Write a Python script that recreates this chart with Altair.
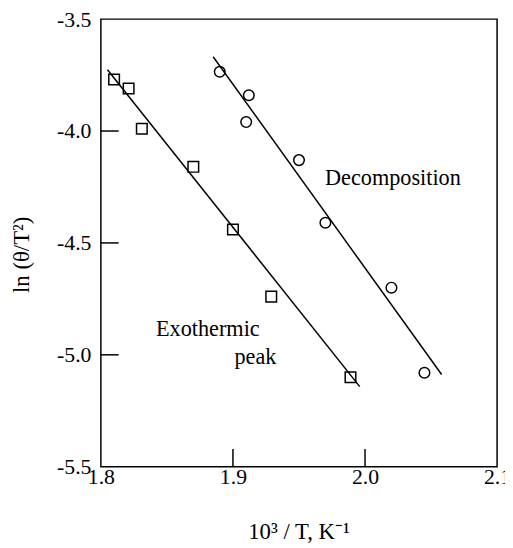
import altair as alt
import pandas as pd

# Exothermic peak (squares)
sq_x = [1.810, 1.821, 1.831, 1.870, 1.900, 1.929, 1.989]
sq_y = [-3.77, -3.81, -3.99, -4.16, -4.44, -4.74, -5.10]
# Decomposition (circles)
ci_x = [1.890, 1.912, 1.910, 1.950, 1.970, 2.020, 2.045]
ci_y = [-3.735, -3.84, -3.96, -4.13, -4.41, -4.70, -5.08]
# fitted lines (end points)
exo_fit_x = [1.805, 1.996]
exo_fit_y = [-3.726, -5.142]
dec_fit_x = [1.885, 2.058]
dec_fit_y = [-3.668, -5.088]
# axes
x_ticks = [1.8, 1.9, 2.0, 2.1]
y_ticks = [-5.5, -5.0, -4.5, -4.0, -3.5]
x_inner = [1.9, 2.0]
y_inner = [-5.0, -4.5, -4.0]
# labels
lab_text = ["Decomposition", "Exothermic", "peak"]
lab_x = [1.9697, 1.881, 1.917]
lab_y = [-4.212, -4.885, -5.009]
lab_align = ["left", "center", "center"]

FONT = "Liberation Serif"
xs = alt.Scale(domain=[1.8, 2.1], nice=False, zero=False)
ys = alt.Scale(domain=[-5.5, -3.5], nice=False, zero=False)

sq = pd.DataFrame({"x": sq_x, "y": sq_y})
ci = pd.DataFrame({"x": ci_x, "y": ci_y})
exo = pd.DataFrame({"x": exo_fit_x, "y": exo_fit_y})
dec = pd.DataFrame({"x": dec_fit_x, "y": dec_fit_y})

xaxis = alt.Axis(values=x_ticks, format=".1f", title="10³ / T,  K⁻¹",
                 titleX=200, titleY=66, titleAnchor="middle", titleAlign="center",
                 titleBaseline="middle", labelPadding=0, labelFontSize=22, labelFlush=False)
yaxis = alt.Axis(values=y_ticks, title="ln (θ/T²)",
                 labelExpr="replace(format(datum.value, '.1f'), '\u2212', '-')",
                 titleX=-80, titleY=238, titleAngle=270, titleAlign="center",
                 titleBaseline="middle", labelPadding=10, labelFontSize=22, labelFlush=False)

base_x = alt.X("x:Q", scale=xs, axis=xaxis)
base_y = alt.Y("y:Q", scale=ys, axis=yaxis)

exo_line = alt.Chart(exo).mark_line(color="black", strokeWidth=1.5).encode(x=base_x, y=base_y)
dec_line = alt.Chart(dec).mark_line(color="black", strokeWidth=1.5).encode(x="x:Q", y="y:Q")
sq_pts = alt.Chart(sq).mark_point(shape="square", filled=False, color="black",
                                  size=115, strokeWidth=1.5, opacity=1).encode(x="x:Q", y="y:Q")
ci_pts = alt.Chart(ci).mark_point(shape="circle", filled=False, color="black",
                                  size=115, strokeWidth=1.5, opacity=1).encode(x="x:Q", y="y:Q")

xt = pd.DataFrame({"x": x_inner, "y": [-5.5] * len(x_inner), "y2": [-5.5 + 18 / 226.5] * len(x_inner)})
yt = pd.DataFrame({"y": y_inner, "x": [1.8] * len(y_inner), "x2": [1.8 + 0.1 * 18 / 133.7] * len(y_inner)})
xtick = alt.Chart(xt).mark_rule(color="black", strokeWidth=1.5).encode(x="x:Q", y="y:Q", y2="y2:Q")
ytick = alt.Chart(yt).mark_rule(color="black", strokeWidth=1.5).encode(y="y:Q", x="x:Q", x2="x2:Q")

labs = pd.DataFrame({"t": lab_text, "x": lab_x, "y": lab_y, "a": lab_align})
lab_left = alt.Chart(labs[labs.a == "left"]).mark_text(align="left", baseline="middle",
                                                       font=FONT, fontSize=22.5, color="black").encode(
    x="x:Q", y="y:Q", text="t:N")
lab_center = alt.Chart(labs[labs.a == "center"]).mark_text(align="center", baseline="middle",
                                                           font=FONT, fontSize=22.5, color="black").encode(
    x="x:Q", y="y:Q", text="t:N")

chart = alt.layer(exo_line, dec_line, xtick, ytick, sq_pts, ci_pts, lab_left, lab_center).properties(
    width=401, height=453,
    autosize=alt.AutoSizeParams(type="none"),
    padding={"left": 94, "top": 8, "right": 8, "bottom": 79},
    background="white",
).configure_view(stroke="black", strokeWidth=1.5).configure_axis(
    domain=False, ticks=False, grid=False, labelFont=FONT, titleFont=FONT,
    labelColor="black", titleColor="black", titleFontSize=23, titleFontWeight="normal",
)

chart.save("out.html", embed_options={"renderer": "svg", "actions": False})
